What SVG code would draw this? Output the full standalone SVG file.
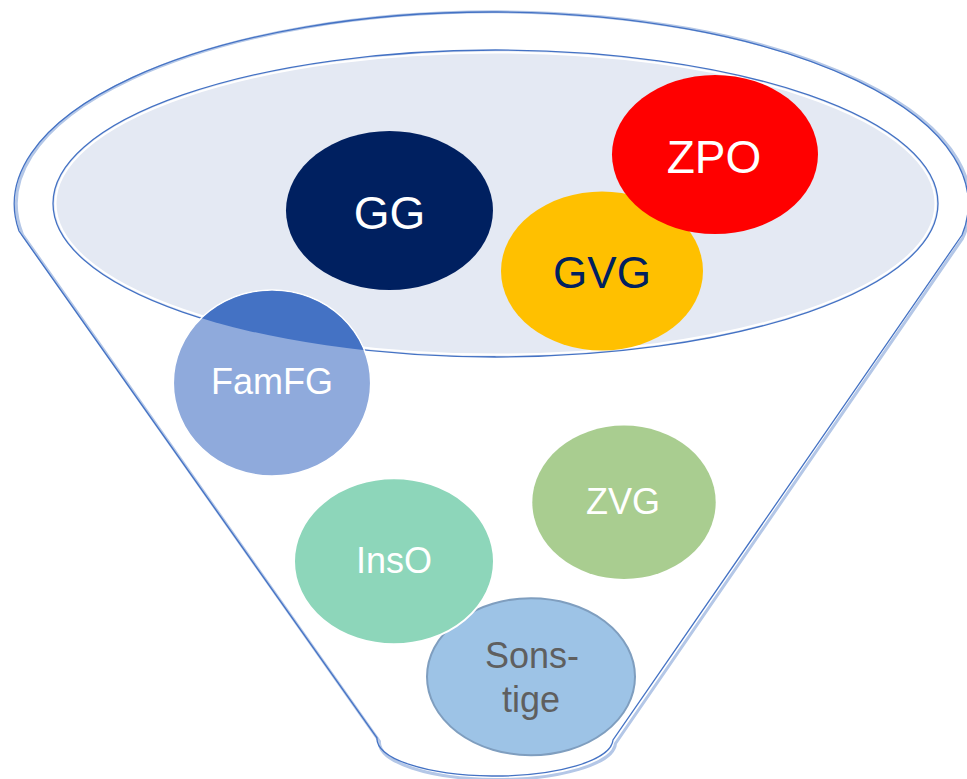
<svg xmlns="http://www.w3.org/2000/svg" width="967" height="779" viewBox="0 0 967 779">
<style>
.lbl{font-family:"Liberation Sans",Arial,sans-serif;text-anchor:middle}
.w{fill:#FFFFFF}
.edge{fill:none;stroke:#4472C4;stroke-width:1.3}
.shadow{fill:none;stroke:#B4C7E7;stroke-width:3}
</style>
<defs>
<clipPath id="innerClip"><ellipse cx="495.5" cy="203.5" rx="442.5" ry="153.5"/></clipPath>
</defs>
<g id="funnel">
<path class="shadow" d="M 21 233 A 477 192 0 1 1 961 237 L 614 742 A 118 37 0 0 1 378 740 Z" transform="translate(1.5,1.5)"/>
<path class="edge" d="M 19 231 A 477 192 0 1 1 962 235 L 613 740 A 118 37 0 0 1 377 738 Z" fill="none"/>
<ellipse cx="495.5" cy="203.5" rx="442.5" ry="153.5" fill="#E4E9F3" stroke="none"/>
<ellipse cx="495.5" cy="203.5" rx="440" ry="151" fill="none" stroke="#FFFFFF" stroke-width="2"/>
<ellipse cx="495.5" cy="203.5" rx="442.5" ry="153.5" fill="none" stroke="#4472C4" stroke-width="1.3"/>
</g>
<g id="GG">
<ellipse cx="389.5" cy="210.5" rx="103.5" ry="79.5" fill="#002060"/>
<text class="lbl w" x="389.5" y="229" font-size="46">GG</text>
</g>
<g id="GVG">
<ellipse cx="602" cy="271" rx="101" ry="79.5" fill="#FFC000"/>
<text class="lbl" x="602" y="288" font-size="44" fill="#002060">GVG</text>
</g>
<g id="ZPO">
<ellipse cx="715" cy="154.5" rx="103" ry="79.5" fill="#FF0000"/>
<text class="lbl w" x="714" y="173" font-size="46">ZPO</text>
</g>
<g id="FamFG">
<ellipse cx="272" cy="383" rx="98.7" ry="93" fill="#8FAADC" stroke="#FFFFFF" stroke-width="1.5"/>
<ellipse cx="272" cy="383" rx="98" ry="92.3" fill="#4472C4" clip-path="url(#innerClip)"/>
<path d="M 60 260 A 442.5 153.5 0 0 0 495.5 357" fill="none" stroke="#4472C4" stroke-width="1.3" clip-path="url(#innerClip)"/>
<text class="lbl w" x="272" y="394" font-size="36">FamFG</text>
</g>
<g id="ZVG">
<ellipse cx="624" cy="502.3" rx="91.7" ry="76.7" fill="#A9CD90"/>
<text class="lbl w" x="623" y="514" font-size="36">ZVG</text>
</g>
<g id="Sonstige">
<ellipse cx="531" cy="676.7" rx="104" ry="78.5" fill="#9DC3E6" stroke="#7F9EBF" stroke-width="2"/>
<text class="lbl" x="532" y="668" font-size="36" fill="#5F5F5F">Sons-</text>
<text class="lbl" x="531" y="712" font-size="36" fill="#5F5F5F">tige</text>
</g>
<g id="InsO">
<ellipse cx="394" cy="561.3" rx="100" ry="83" fill="#8DD6BA" stroke="#FFFFFF" stroke-width="2"/>
<text class="lbl w" x="394" y="573" font-size="36">InsO</text>
</g>
<g id="connectors"/>
</svg>
